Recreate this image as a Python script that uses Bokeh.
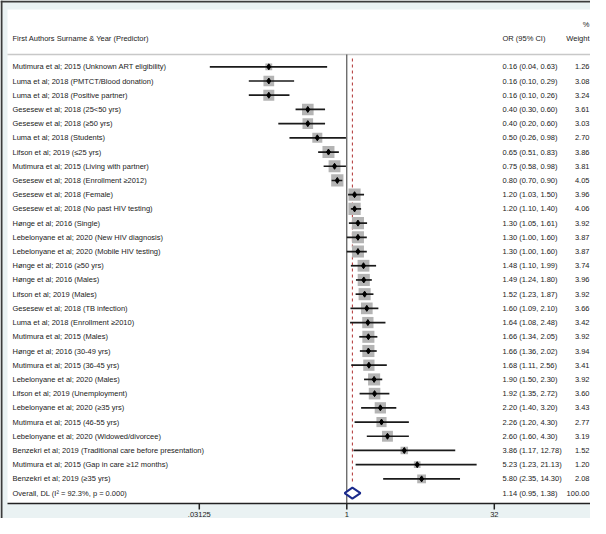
import math
from bokeh.plotting import figure
from bokeh.models import ColumnDataSource, LabelSet, Label, Range1d, BoxAnnotation
from bokeh.core.properties import value
from bokeh.embed import file_html
from bokeh.resources import INLINE

labels = [
    "Mutimura et al; 2015 (Unknown ART eligibility)",
    "Luma et al; 2018 (PMTCT/Blood donation)",
    "Luma et al; 2018 (Positive partner)",
    "Gesesew et al; 2018 (25<50 yrs)",
    "Gesesew et al; 2018 (\u226550 yrs)",
    "Luma et al; 2018 (Students)",
    "Lifson et al; 2019 (\u226425 yrs)",
    "Mutimura et al; 2015 (Living with partner)",
    "Gesesew et al; 2018 (Enrollment \u22652012)",
    "Gesesew et al; 2018 (Female)",
    "Gesesew et al; 2018 (No past HIV testing)",
    "H\u00f8nge et al; 2016 (Single)",
    "Lebelonyane et al; 2020 (New HIV diagnosis)",
    "Lebelonyane et al; 2020 (Mobile HIV testing)",
    "H\u00f8nge et al; 2016 (\u226550 yrs)",
    "H\u00f8nge et al; 2016 (Males)",
    "Lifson et al; 2019 (Males)",
    "Gesesew et al; 2018 (TB infection)",
    "Luma et al; 2018 (Enrollment \u22652010)",
    "Mutimura et al; 2015 (Males)",
    "H\u00f8nge et al; 2016 (30-49 yrs)",
    "Mutimura et al; 2015 (36-45 yrs)",
    "Lebelonyane et al; 2020 (Males)",
    "Lifson et al; 2019 (Unemployment)",
    "Lebelonyane et al; 2020 (\u226535 yrs)",
    "Mutimura et al; 2015 (46-55 yrs)",
    "Lebelonyane et al; 2020 (Widowed/divorcee)",
    "Benzekri et al; 2019 (Traditional care before presentation)",
    "Mutimura et al; 2015 (Gap in care \u226512 months)",
    "Benzekri et al; 2019 (\u226535 yrs)",
]
odds = [0.16, 0.16, 0.16, 0.40, 0.40, 0.50, 0.65, 0.75, 0.80, 1.20, 1.20, 1.30, 1.30, 1.30, 1.48,
        1.49, 1.52, 1.60, 1.64, 1.66, 1.66, 1.68, 1.90, 1.92, 2.20, 2.26, 2.60, 3.86, 5.23, 5.80]
lower = [0.04, 0.10, 0.10, 0.30, 0.20, 0.26, 0.51, 0.58, 0.70, 1.03, 1.10, 1.05, 1.00, 1.00, 1.10,
         1.24, 1.23, 1.09, 1.08, 1.34, 1.36, 1.11, 1.50, 1.35, 1.40, 1.20, 1.60, 1.17, 1.23, 2.35]
upper = [0.63, 0.29, 0.26, 0.60, 0.60, 0.98, 0.83, 0.98, 0.90, 1.50, 1.40, 1.61, 1.60, 1.60, 1.99,
         1.80, 1.87, 2.10, 2.48, 2.05, 2.02, 2.56, 2.30, 2.72, 3.20, 4.30, 4.30, 12.78, 21.13, 14.30]
weights = [1.26, 3.08, 3.24, 3.61, 3.03, 2.70, 3.86, 3.81, 4.05, 3.96, 4.06, 3.92, 3.87, 3.87, 3.74,
           3.96, 3.92, 3.66, 3.42, 3.92, 3.94, 3.41, 3.92, 3.60, 3.43, 2.77, 3.19, 1.52, 1.20, 2.08]

overall_label = "Overall, DL (I\u00b2 = 92.3%, p = 0.000)"
overall_or = 1.14
overall_lower = 0.95
overall_upper = 1.38
overall_weight = 100.00

tick_values = [0.03125, 1, 32]
tick_labels = [".03125", "1", "32"]

FONT = "Liberation Sans"
TXT = "#222222"
FS = "7.5px"
BG = "#eaf2f3"

n = len(labels)
rows = list(range(n))
overall_row = n

W, H = 590, 518
# horizontal layout: 29.5 px per doubling, OR = 1 at 346.3 px
ppd = 29.5
x1px = 346.3
def or_at(px):
    return 2 ** ((px - x1px) / ppd)
x_start, x_end = or_at(0), or_at(W)

# vertical layout: first row at 66.3 px, row pitch 14.21 px
row0 = 66.3
pitch = 14.21
def row_at(py):
    return (py - row0) / pitch
y_top, y_bot = row_at(0), row_at(H)
axis_y = row_at(503)

p = figure(width=W, height=H, x_axis_type="log",
           x_range=Range1d(x_start, x_end), y_range=Range1d(y_bot, y_top),
           output_backend="svg", toolbar_location=None,
           x_axis_location=None, y_axis_location=None,
           min_border_left=0, min_border_right=0, min_border_top=0, min_border_bottom=0,
           background_fill_color="white", border_fill_color="white")
p.outline_line_color = None
p.xgrid.visible = False
p.ygrid.visible = False

# graph-region bands (light blue-grey) and dark outer edge
p.add_layout(BoxAnnotation(top=axis_y, bottom=y_bot, fill_color=BG, fill_alpha=1,
                           line_color=None, level="underlay"))
p.add_layout(BoxAnnotation(top=y_top, bottom=row_at(9), fill_color=BG, fill_alpha=1,
                           line_color=None, level="underlay"))
p.add_layout(BoxAnnotation(left=x_start, right=or_at(7), fill_color=BG, fill_alpha=1,
                           line_color=None, level="underlay"))
p.add_layout(BoxAnnotation(left=x_start, right=or_at(2), fill_color="#3c3c3c", fill_alpha=1,
                           line_color=None, level="underlay"))
p.add_layout(BoxAnnotation(top=y_top, bottom=row_at(2), fill_color="#3c3c3c", fill_alpha=1,
                           line_color=None, level="underlay"))

# header separator line
p.segment(x0=[or_at(7)], y0=[row_at(54)], x1=[x_end], y1=[row_at(54)],
          line_color="#c8c8c8", line_width=1.5)

# x axis (log2 scale) drawn along the bottom of the plot region
p.segment(x0=[or_at(7)], y0=[axis_y], x1=[x_end], y1=[axis_y], line_color="#222222", line_width=1.5)
p.segment(x0=tick_values, y0=[axis_y] * 3, x1=tick_values, y1=[row_at(509)] * 3,
          line_color="#222222", line_width=1.5)
p.text(x=tick_values, y=[row_at(513.5)] * 3, text=tick_labels,
       text_font=value(FONT), text_font_size=value(FS), text_color=TXT,
       text_align="center", text_baseline="middle")

# null line at OR = 1
p.segment(x0=[1], y0=[row_at(54)], x1=[1], y1=[axis_y], line_color="#333333", line_width=1)

# overall effect dashed line
p.segment(x0=[overall_or], y0=[row_at(58)], x1=[overall_or], y1=[overall_row - 0.6],
          line_color="#b03030", line_width=1, line_dash="3 3")

src = ColumnDataSource(dict(
    y=rows, est=odds, lo=lower, hi=upper,
    size=[6.1 * math.sqrt(w) for w in weights],
))
p.scatter(x="est", y="y", size="size", marker="square", source=src,
          fill_color="#b4b4b4", line_color=None)
p.segment(x0="lo", y0="y", x1="hi", y1="y", source=src, line_color="#1a1a1a", line_width=1.7)
p.scatter(x="est", y="y", size=6, marker="diamond", source=src,
          fill_color="#000000", line_color="#000000")

# overall diamond
h = 5.5 / pitch
p.patch(x=[overall_lower, overall_or, overall_upper, overall_or],
        y=[overall_row, overall_row - h, overall_row, overall_row + h],
        fill_color="white", line_color="#1a2a8c", line_width=2)

# text columns
all_labels = labels + [overall_label]
ci_text = ["%.2f (%.2f, %.2f)" % (o, l, u) for o, l, u in zip(odds, lower, upper)]
ci_text.append("%.2f (%.2f, %.2f)" % (overall_or, overall_lower, overall_upper))
w_text = ["%.2f" % w for w in weights] + ["%.2f" % overall_weight]
tsrc = ColumnDataSource(dict(y=rows + [overall_row], lab=all_labels, ci=ci_text, w=w_text))

common = dict(y="y", y_units="data", x_units="screen", source=tsrc,
              text_font=value(FONT), text_font_size=value(FS), text_color=value(TXT),
              text_baseline=value("middle"))
p.add_layout(LabelSet(x=12, text="lab", text_align=value("left"), **common))
p.add_layout(LabelSet(x=502, text="ci", text_align=value("left"), **common))
p.add_layout(LabelSet(x=589, text="w", text_align=value("right"), **common))

hdr = dict(x_units="screen", y_units="data", text_font=FONT, text_font_size=FS,
           text_color=TXT, text_baseline="middle")
p.add_layout(Label(x=12, y=row_at(38), text="First Authors Surname & Year (Predictor)", text_align="left", **hdr))
p.add_layout(Label(x=502, y=row_at(38), text="OR (95% CI)", text_align="left", **hdr))
p.add_layout(Label(x=589, y=row_at(38), text="Weight", text_align="right", **hdr))
p.add_layout(Label(x=589, y=row_at(24), text="%", text_align="right", **hdr))

open("out.html", "w").write(file_html(p, INLINE))
